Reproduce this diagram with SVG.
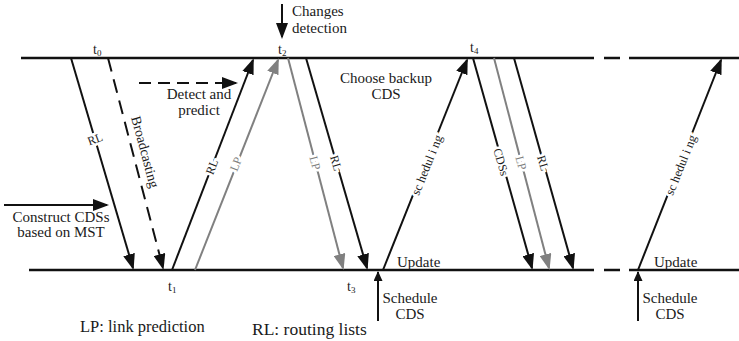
<svg xmlns="http://www.w3.org/2000/svg" width="739" height="341" viewBox="0 0 739 341">
  <style>
    .txt { font-family: "Liberation Serif", "Times New Roman", serif; font-size: 15px; fill: #1a1a1a; }
    .leg { font-family: "Liberation Serif", "Times New Roman", serif; font-size: 16.5px; fill: #1a1a1a; }
    .tl { font-family: "Liberation Serif", "Times New Roman", serif; font-size: 14px; fill: #1a1a1a; }
    .sub { font-size: 9px; }
    .lab { font-family: "Liberation Serif", "Times New Roman", serif; font-size: 12px; text-anchor: middle; dominant-baseline: central; stroke: #ffffff; stroke-width: 5px; paint-order: stroke; }
    .blk { fill: #1a1a1a; }
    .gry { fill: #7f7f7f; }
    .axis { stroke: #111; stroke-width: 2.5; fill: none; }
    .k { stroke: #111; stroke-width: 2; fill: none; }
    .g { stroke: #808080; stroke-width: 2; fill: none; }
    .dash1 { stroke-dasharray: 14 8; }
    .dash2 { stroke-dasharray: 12 7; }
  </style>
  <defs>
    <marker id="ak" markerUnits="userSpaceOnUse" markerWidth="16" markerHeight="12" refX="14" refY="6" orient="auto">
      <path d="M0,0 L16,6 L0,12 Z" fill="#111"/>
    </marker>
    <marker id="ag" markerUnits="userSpaceOnUse" markerWidth="16" markerHeight="12" refX="14" refY="6" orient="auto">
      <path d="M0,0 L16,6 L0,12 Z" fill="#808080"/>
    </marker>
    <marker id="as" markerUnits="userSpaceOnUse" markerWidth="10" markerHeight="9" refX="9" refY="4.5" orient="auto">
      <path d="M0,0 L10,4.5 L0,9 Z" fill="#111"/>
    </marker>
  </defs>

  <!-- time axes -->
  <g id="axes">
    <path class="axis" d="M21,58 H594 M604,58 H620 M629,58 H739"/>
    <path class="axis" d="M29,270 H594 M604,270 H620 M629,270 H739"/>
  </g>

  <!-- message connectors -->
  <g id="connectors">
    <line class="k" x1="71" y1="58" x2="133" y2="268" marker-end="url(#ak)"/>
    <line class="k dash1" x1="108" y1="58" x2="163" y2="268" marker-end="url(#ak)"/>
    <line class="k" x1="172" y1="270" x2="253" y2="60" marker-end="url(#ak)"/>
    <line class="g" x1="195" y1="270" x2="278" y2="60" marker-end="url(#ag)"/>
    <line class="g" x1="288" y1="58" x2="343" y2="268" marker-end="url(#ag)"/>
    <line class="k" x1="306" y1="58" x2="367" y2="268" marker-end="url(#ak)"/>
    <line class="k" x1="383" y1="270" x2="467" y2="60" marker-end="url(#ak)"/>
    <line class="k" x1="473" y1="58" x2="532" y2="268" marker-end="url(#ak)"/>
    <line class="g" x1="494" y1="58" x2="549" y2="268" marker-end="url(#ag)"/>
    <line class="k" x1="514" y1="58" x2="573" y2="268" marker-end="url(#ak)"/>
    <line class="k" x1="638" y1="270" x2="721" y2="60" marker-end="url(#ak)"/>
    <!-- event arrows -->
    <line class="k" x1="282" y1="4" x2="282" y2="37" marker-end="url(#ak)"/>
    <line class="k dash2" x1="139" y1="83" x2="236" y2="83" marker-end="url(#ak)"/>
    <line class="k" x1="4" y1="205" x2="107" y2="205" marker-end="url(#ak)"/>
    <line class="k" x1="378" y1="321" x2="378" y2="272" marker-end="url(#as)"/>
    <line class="k" x1="638" y1="321" x2="638" y2="272" marker-end="url(#as)"/>
  </g>

  <!-- connector labels -->
  <g id="connector-labels">
    <text class="lab blk" transform="translate(95,139) rotate(-20)">RL</text>
    <text class="lab blk" style="font-size:14px;stroke:none" transform="translate(145,152) rotate(75)">Broadcasting</text>
    <text class="lab blk" transform="translate(212,167) rotate(-69)">RL</text>
    <text class="lab gry" transform="translate(236,164) rotate(-68)">LP</text>
    <text class="lab gry" transform="translate(315,163) rotate(75)">LP</text>
    <text class="lab blk" transform="translate(336,163) rotate(74)">RL</text>
    <text class="lab blk" style="font-size:12.5px" transform="translate(427,165) rotate(-68)">sc hedul i ng</text>
    <text class="lab blk" transform="translate(501,162) rotate(74)">CDSs</text>
    <text class="lab gry" transform="translate(521,163) rotate(75)">LP</text>
    <text class="lab blk" transform="translate(543,163) rotate(74)">RL</text>
    <text class="lab blk" style="font-size:12.5px" transform="translate(681,165) rotate(-68)">sc hedul i ng</text>
  </g>

  <!-- time marks -->
  <g id="time-marks">
    <text class="tl" x="93" y="54">t<tspan class="sub" dy="2">0</tspan></text>
    <text class="tl" x="278" y="54">t<tspan class="sub" dy="2">2</tspan></text>
    <text class="tl" x="470" y="52">t<tspan class="sub" dy="2">4</tspan></text>
    <text class="tl" x="168" y="291">t<tspan class="sub" dy="2">1</tspan></text>
    <text class="tl" x="347" y="291">t<tspan class="sub" dy="2">3</tspan></text>
  </g>

  <g id="changes-detection">
    <text class="txt" x="292" y="16">Changes</text>
    <text class="txt" x="292" y="33">detection</text>
  </g>

  <g id="detect-predict">
    <text class="txt" x="199" y="99" text-anchor="middle">Detect and</text>
    <text class="txt" x="199" y="115" text-anchor="middle">predict</text>
  </g>

  <g id="construct-cds">
    <text class="txt" x="61" y="222" text-anchor="middle">Construct CDSs</text>
    <text class="txt" x="61" y="237" text-anchor="middle">based on MST</text>
  </g>

  <g id="choose-backup">
    <text class="txt" x="386" y="83" text-anchor="middle">Choose backup</text>
    <text class="txt" x="386" y="99" text-anchor="middle">CDS</text>
  </g>

  <g id="update-1">
    <text class="txt" x="397" y="267">Update</text>
  </g>
  <g id="update-2">
    <text class="txt" x="654" y="267">Update</text>
  </g>

  <g id="schedule-cds-1">
    <text class="txt" x="410" y="303" text-anchor="middle">Schedule</text>
    <text class="txt" x="410" y="319" text-anchor="middle">CDS</text>
  </g>
  <g id="schedule-cds-2">
    <text class="txt" x="670" y="303" text-anchor="middle">Schedule</text>
    <text class="txt" x="670" y="319" text-anchor="middle">CDS</text>
  </g>

  <g id="legend">
    <text class="leg" x="80" y="332">LP: link prediction</text>
    <text class="leg" style="font-size:17.5px" x="252" y="335">RL: routing lists</text>
  </g>
</svg>
